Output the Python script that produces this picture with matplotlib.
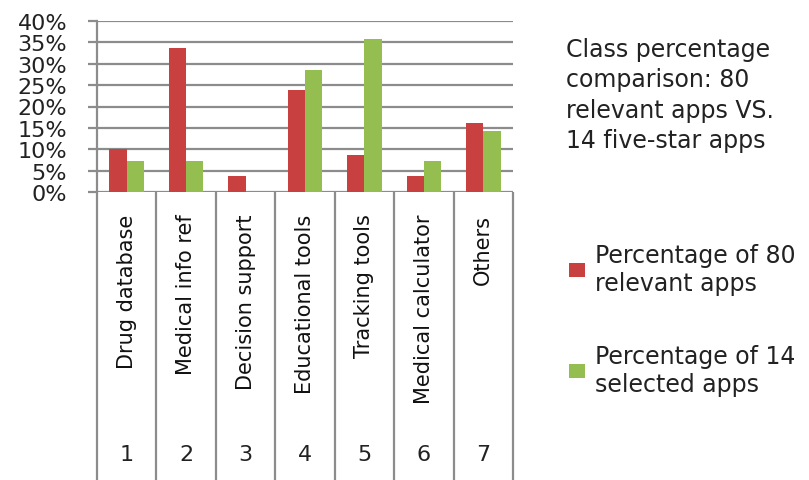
import numpy as np
import matplotlib.pyplot as plt
from matplotlib.ticker import PercentFormatter

# data
categories = ["Drug database", "Medical info ref", "Decision support",
              "Educational tools", "Tracking tools", "Medical calculator", "Others"]
numbers = ["1", "2", "3", "4", "5", "6", "7"]
pct_80 = [10.0, 33.75, 3.75, 23.75, 8.75, 3.75, 16.25]    # of 80 relevant apps
pct_14 = [7.14, 7.14, 0.0, 28.57, 35.71, 7.14, 14.29]     # of 14 selected apps
series_names = ["Percentage of 80\nrelevant apps", "Percentage of 14\nselected apps"]
note = "Class percentage\ncomparison: 80\nrelevant apps VS.\n14 five-star apps"

red = "#C8403F"
green = "#94BF50"
gray = "#8C8C8C"

W, H = 809, 481
fig = plt.figure(figsize=(W / 100, H / 100), dpi=100)

# bar area
ax = fig.add_axes([97 / W, 1 - 193 / H, 416 / W, 171 / H])
x = np.arange(len(categories)) + 0.5
bw = 0.29
b1 = ax.bar(x - bw / 2, pct_80, bw, color=red)
b2 = ax.bar(x + bw / 2, pct_14, bw, color=green)

ax.set_xlim(0, len(categories))
ax.set_ylim(0, 40)
ax.set_yticks(np.arange(0, 41, 5))
ax.yaxis.set_major_formatter(PercentFormatter(decimals=0))
ax.set_xticks([])
ax.grid(axis="y", color=gray, lw=1.6)
ax.set_axisbelow(True)
for s in ["top", "right", "bottom"]:
    ax.spines[s].set_visible(False)
ax.spines["left"].set_color(gray)
ax.spines["left"].set_linewidth(1.6)
ax.tick_params(axis="y", length=6.5, width=1.6, color=gray, pad=15,
               labelsize=16, labelcolor="#222222")

# category table under the bars
tab = fig.add_axes([97 / W, 0, 416 / W, 288 / H])
tab.set_xlim(0, len(categories))
tab.set_ylim(1, 0)
tab.axis("off")
tab.vlines(np.arange(len(categories) + 1), 0, 1, color=gray, lw=1.6, clip_on=False)
for xi, name, num in zip(x, categories, numbers):
    tab.text(xi, 0.075, name, rotation=90, ha="center", va="top",
             fontsize=15, color="#111111")
    tab.text(xi, 0.91, num, ha="center", va="center", fontsize=16, color="#222222")

# note and legend on the right
fig.text(566 / W, 1 - 38 / H, note, ha="left", va="top", fontsize=17,
         linespacing=1.33, color="#222222")
fig.legend([b1, b2], series_names, loc="upper left",
           bbox_to_anchor=(557 / W, 1 - 232 / H), frameon=False, fontsize=17,
           handlelength=0.7, handleheight=0.55, handletextpad=0.4,
           labelspacing=2.1, borderpad=0, labelcolor="#222222")

fig.savefig("out.png", dpi=100)
